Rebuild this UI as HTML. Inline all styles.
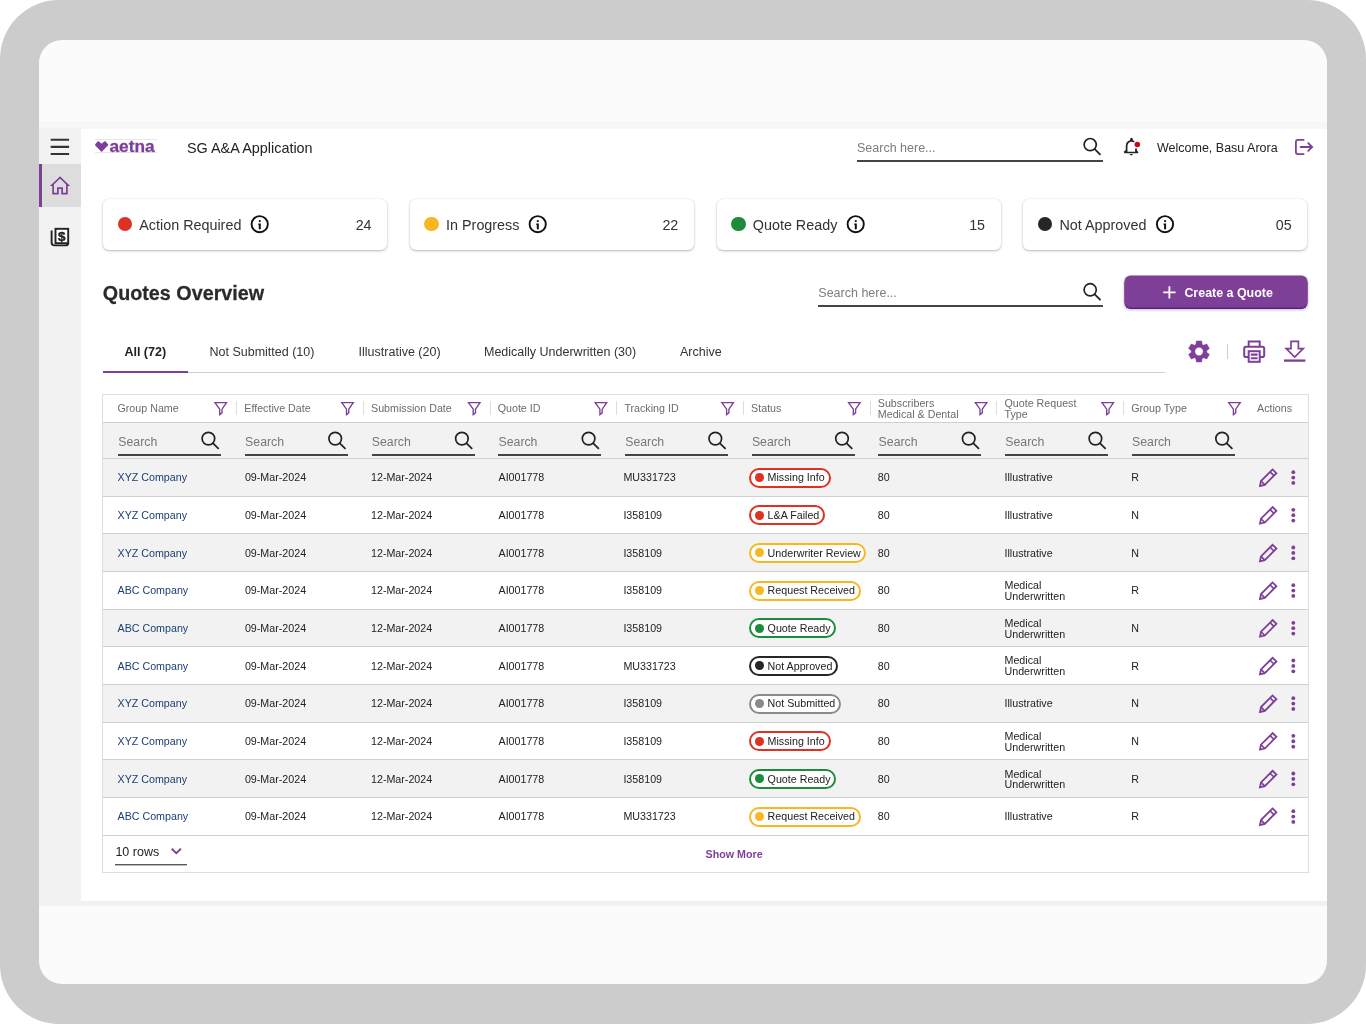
<!DOCTYPE html>
<html lang="en">
<head>
<meta charset="utf-8">
<title>SG A&amp;A Application - Quotes Overview</title>
<style>
*{box-sizing:border-box;margin:0;padding:0}
html,body{width:1366px;height:1024px;overflow:hidden;background:#fff}
body{font-family:"Liberation Sans",Arial,Helvetica,sans-serif;color:#222;position:relative}
.frame{position:absolute;left:0;top:0;width:1366px;height:1024px;background:#cccccc;border-radius:59px}
.screen{position:absolute;left:39px;top:40px;width:1288px;height:944px;background:#fbfbfb;border-radius:23px;overflow:hidden}
.page{position:absolute;left:-39px;top:-40px;width:1366px;height:1024px;transform:translateZ(0);will-change:transform}
.band{position:absolute;left:39px;top:121px;width:1288px;height:8px;background:#f8f7f6}
.main{position:absolute;left:80px;top:129px;width:1247px;height:772px;background:#fff}
.foot{position:absolute;left:39px;top:901px;width:1288px;height:5px;background:#f1f1f1}
.side{position:absolute;left:39px;top:128px;width:42px;height:778px;background:#f2f2f2}
.side .active{position:absolute;left:0;top:36px;width:42px;height:43px;background:#dddddd;border-left:3px solid #7d3f98}
svg{display:block;overflow:visible;position:absolute}
.t{position:absolute;white-space:nowrap;line-height:1}
.ul{position:absolute;height:2px;background:#444}
.card{position:absolute;top:199px;width:284px;height:51px;background:#fff;border-radius:6px;box-shadow:0 1px 2.5px rgba(0,0,0,.28),0 0 1px rgba(0,0,0,.12)}
.card .dot{position:absolute;left:14.6px;top:17.8px;width:14.6px;height:14.6px;border-radius:50%}
.card .lbl{position:absolute;left:36.3px;top:18.7px;font-size:14.35px;line-height:1;color:#333;white-space:nowrap}
.card .num{position:absolute;right:15.5px;top:18.7px;font-size:14.25px;line-height:1;color:#333}
.btn{position:absolute;left:1124px;top:275px;transform:translate(.5px,.5px);width:182.8px;height:32px;background:#7d3f98;border-radius:6px;box-shadow:0 1.5px 0 #5c1f82,0 2px 3px rgba(0,0,0,.25)}
.btn .t{color:#fff;font-weight:bold;font-size:12.45px;left:59.9px;top:10.9px}
.tab{position:absolute;top:346.3px;font-size:12.5px;line-height:1;color:#333;white-space:nowrap}
.tbl{position:absolute;left:102px;top:394px;width:1207px;height:479px;border:1px solid #dedede;background:#fff}
.row{position:absolute;left:103px;width:1204.5px;border-bottom:1px solid #cfcfcf}
.row.g{background:#f2f2f2}
.th{position:absolute;font-size:10.7px;line-height:10.7px;color:#6b6b6b;white-space:nowrap}
.sep{position:absolute;width:1px;height:14px;top:401px;background:#dcdcdc}
.td{position:absolute;font-size:10.7px;line-height:10.7px;color:#222;white-space:nowrap}
.lnk{color:#1c3f73}
.srch{position:absolute;font-size:12.3px;line-height:1;color:#777;top:436.3px}
.badge{position:absolute;height:20px;border-radius:10px;background:#fff;font-size:10.7px;line-height:10.7px;color:#222;white-space:nowrap;padding:4.7px 0 0 18.6px}
.badge i{position:absolute;left:5.8px;top:5.5px;width:8.8px;height:8.8px;border-radius:50%}
</style>
</head>
<body>
<div class="frame"></div>
<div class="screen"><div class="page">
<div class="band"></div>
<div class="main"></div>
<div class="foot"></div>
<div class="side"><div class="active"></div></div>
<svg style="left:50px;top:138px" width="18.4" height="16.5" viewBox="0 0 18.4 16.5"><g transform="translate(0.7 0.7)"><path d="M0 1.1H18.4M0 8.2H18.4M0 15.3H18.4" stroke="#333" stroke-width="2.1" fill="none"/></g></svg>
<svg style="left:50px;top:175px" width="20" height="19.5" viewBox="0 0 20 19.5"><g transform="translate(0.0 0.8)"><path d="M10 1.7 L2 9.3 H3.1 V17.9 H7.9 V12.3 H12.1 V17.9 H16.9 V9.3 H18 Z" fill="none" stroke="#7d3f98" stroke-width="1.7" stroke-linejoin="miter"/></g></svg>
<svg style="left:50px;top:227px" width="20" height="20" viewBox="0 0 20 20"><path d="M1.6 3.6 V15.6 Q1.6 18.4 4.4 18.4 H15.6 Q18.2 18.4 18.2 16" fill="none" stroke="#222" stroke-width="1.9"/><rect x="5.5" y="1.8" width="12.7" height="14.4" fill="#fff" stroke="#222" stroke-width="1.9"/></svg>
<div class="t" style="left:58px;top:230.2px;width:7.4px;text-align:center;font-size:13.4px;font-weight:bold;color:#222;-webkit-text-stroke:0.45px #222">$</div>
<div style="position:absolute;left:95px;top:139.2px;width:62px;height:13.6px;border-top:1px solid #e6e6e6;border-bottom:1px solid #e6e6e6"></div>
<svg style="left:95px;top:140px" width="13.2" height="11.4" viewBox="0 0 13.2 11"><g transform="translate(0.0 0.9)"><path d="M6.6 11 L0.3 4.4 Q-0.3 3.6 0.4 2.9 L2.6 0.5 Q3.3 -0.1 4 0.5 L6.6 2.7 L9.2 0.5 Q9.9 -0.1 10.6 0.5 L12.8 2.9 Q13.5 3.6 12.9 4.4 Z" fill="#7d3f98"/></g></svg>
<div class="t" style="left:109.4px;top:138.4px;font-size:17.3px;font-weight:bold;color:#7d3f98;letter-spacing:0.02px;-webkit-text-stroke:0.3px #7d3f98">aetna</div>
<div class="t" style="left:187px;top:140.7px;font-size:14.4px;color:#222">SG A&amp;A Application</div>
<div class="t" style="left:857px;top:142px;font-size:12.5px;color:#7d7d7d">Search here...</div>
<div class="ul" style="left:857px;top:160px;width:246px"></div>
<svg style="left:0;top:0" width="1" height="1"><circle cx="1090.2" cy="144.6" r="6.1" fill="none" stroke="#222" stroke-width="1.7"/><path d="M1094.51 148.91L1100.50 154.90" stroke="#222" stroke-width="1.7" fill="none"/></svg>
<svg style="left:1123px;top:137px" width="17" height="20" viewBox="0 0 17 20"><path d="M3.6 15 V9.4 Q3.6 4.6 8 3.9 V2.4 Q8 1.5 8.4 1.5 Q8.9 1.5 9 2.4 V3.9 Q10.3 4.1 11.2 4.9" fill="none" stroke="#222" stroke-width="1.7"/><path d="M13 11.4 V15" fill="none" stroke="#222" stroke-width="1.7"/><path d="M1.2 15.4 H14.6 L13 13.4 M1.2 15.4 L3.6 13.4" fill="none" stroke="#222" stroke-width="1.5" stroke-linejoin="round"/><path d="M6.5 17 H10.1 Q8.3 19.8 6.5 17 Z" fill="#222"/><circle cx="14.3" cy="7.4" r="2.75" fill="#d0021b"/></svg>
<div class="t" style="left:1157px;top:141.6px;font-size:12.5px;color:#222">Welcome, Basu Arora</div>
<svg style="left:1294px;top:138px" width="20" height="18" viewBox="0 0 20 18"><path d="M9.6 1.9 H4 Q1.9 1.9 1.9 4 V14 Q1.9 16.1 4 16.1 H9.6" fill="none" stroke="#7d3f98" stroke-width="1.8" stroke-linecap="round"/><path d="M6.6 9 H18 M14.2 5.2 L18.2 9 L14.2 12.8" fill="none" stroke="#7d3f98" stroke-width="1.8" stroke-linecap="round" stroke-linejoin="miter"/></svg>
<div class="card" style="left:103px"><span class="dot" style="background:#de3121"></span><span class="lbl">Action Required</span><span class="num">24</span></div>
<div class="card" style="left:409.8px"><span class="dot" style="background:#f6b721"></span><span class="lbl">In Progress</span><span class="num">22</span></div>
<div class="card" style="left:716.5px"><span class="dot" style="background:#1c8c3c"></span><span class="lbl">Quote Ready</span><span class="num">15</span></div>
<div class="card" style="left:1023.2px"><span class="dot" style="background:#262626"></span><span class="lbl">Not Approved</span><span class="num">05</span></div>
<div class="t" style="left:102.8px;top:283.8px;font-size:19.75px;font-weight:bold;color:#2a2a2a;-webkit-text-stroke:0.25px #2a2a2a;transform:scaleY(1.05);transform-origin:0 84.6%">Quotes Overview</div>
<div class="t" style="left:818.3px;top:287.2px;font-size:12.5px;color:#7d7d7d">Search here...</div>
<div class="ul" style="left:818px;top:305px;width:285px"></div>
<svg style="left:0;top:0" width="1" height="1"><circle cx="1090.2" cy="289.8" r="6.1" fill="none" stroke="#222" stroke-width="1.7"/><path d="M1094.51 294.11L1100.50 300.10" stroke="#222" stroke-width="1.7" fill="none"/></svg>
<div class="btn"><svg style="left:38px;top:10px" width="12.4" height="12.4" viewBox="0 0 12.4 12.4"><g transform="translate(0.7 0.7)"><path d="M6.2 0V12.4M0 6.2H12.4" stroke="#fff" stroke-width="1.8" fill="none"/></g></svg><span class="t">Create a Quote</span></div>
<div style="position:absolute;left:103px;top:371.8px;width:1062px;height:1.2px;background:#cfcfcf"></div>
<div style="position:absolute;left:103px;top:370.6px;width:85px;height:2.4px;background:#7d3f98"></div>
<div class="tab" style="left:124.4px;font-weight:bold;color:#222">All (72)</div>
<div class="tab" style="left:209.5px;">Not Submitted (10)</div>
<div class="tab" style="left:358.6px;">Illustrative (20)</div>
<div class="tab" style="left:484px;">Medically Underwritten (30)</div>
<div class="tab" style="left:680px;">Archive</div>
<svg style="left:0;top:0" width="1" height="1"><path d="M1195.79 344.50L1196.38 341.02L1201.62 341.02L1202.21 344.50A7.7 7.7 0 0 1 1203.46 345.22L1206.76 343.99L1209.38 348.53L1206.67 350.78A7.7 7.7 0 0 1 1206.67 352.22L1209.38 354.47L1206.76 359.01L1203.46 357.78A7.7 7.7 0 0 1 1202.21 358.50L1201.62 361.98L1196.38 361.98L1195.79 358.50A7.7 7.7 0 0 1 1194.54 357.78L1191.24 359.01L1188.62 354.47L1191.33 352.22A7.7 7.7 0 0 1 1191.33 350.78L1188.62 348.53L1191.24 343.99L1194.54 345.22A7.7 7.7 0 0 1 1195.79 344.50Z M1203.2 351.5 A4.2 4.2 0 1 0 1194.8 351.5 A4.2 4.2 0 1 0 1203.2 351.5Z" fill="#7d3f98" fill-rule="evenodd" stroke="#7d3f98" stroke-width="0.5" stroke-linejoin="round"/></svg>
<div style="position:absolute;left:1227px;top:344.3px;width:1px;height:14.5px;background:#cfcfcf"></div>
<svg style="left:1243px;top:340px" width="22.4" height="23" viewBox="0 0 22.4 23"><path d="M5.7 6.6 V1.5 H16.7 V6.6" fill="none" stroke="#7d3f98" stroke-width="2"/><path d="M5.4 17 H3 Q1.2 17 1.2 15.2 V8.6 Q1.2 6.8 3 6.8 H19.4 Q21.2 6.8 21.2 8.6 V15.2 Q21.2 17 19.4 17 H17" fill="none" stroke="#7d3f98" stroke-width="2"/><rect x="5.7" y="11.2" width="11" height="10.6" fill="none" stroke="#7d3f98" stroke-width="2"/><path d="M7.8 14.6 H14.6 M7.8 18.3 H14.6" stroke="#7d3f98" stroke-width="2.1" fill="none"/></svg>
<svg style="left:1283px;top:340px" width="23.4" height="23" viewBox="0 0 23.4 23"><path d="M8 1.4 H15.4 V8.6 H20.2 L11.7 17 L3.2 8.6 H8 Z" fill="none" stroke="#7d3f98" stroke-width="1.7" stroke-linejoin="miter"/><path d="M1 20.6 H22.4" stroke="#7d3f98" stroke-width="2.3" fill="none"/></svg>
<div class="tbl"></div>
<div class="row" style="top:395px;height:28px;border-bottom-color:#cfcfcf"></div>
<div class="row g" style="top:423px;height:36px"></div>
<div class="th" style="left:117.5px;top:402.9px">Group Name</div>
<svg style="left:214px;top:401px" width="14" height="14" viewBox="0 0 14 14"><g transform="translate(0.1 0.6)"><path d="M0.9 1 H12.4 L7.9 7.5 V11.2 L5.6 13 V7.5 Z" fill="none" stroke="#7d3f98" stroke-width="1.35" stroke-linejoin="miter"/></g></svg>
<div class="sep" style="left:236.0px"></div>
<div class="srch" style="left:118.3px">Search</div>
<div class="ul" style="left:118.0px;top:454px;width:103px"></div>
<svg style="left:0;top:0" width="1" height="1"><circle cx="208.4" cy="438.6" r="6.3" fill="none" stroke="#222" stroke-width="1.7"/><path d="M212.85 443.05L218.70 448.90" stroke="#222" stroke-width="1.7" fill="none"/></svg>
<div class="th" style="left:244.3px;top:402.9px">Effective Date</div>
<svg style="left:340px;top:401px" width="14" height="14" viewBox="0 0 14 14"><g transform="translate(0.9 0.6)"><path d="M0.9 1 H12.4 L7.9 7.5 V11.2 L5.6 13 V7.5 Z" fill="none" stroke="#7d3f98" stroke-width="1.35" stroke-linejoin="miter"/></g></svg>
<div class="sep" style="left:362.8px"></div>
<div class="srch" style="left:245.1px">Search</div>
<div class="ul" style="left:244.8px;top:454px;width:103px"></div>
<svg style="left:0;top:0" width="1" height="1"><circle cx="335.20000000000005" cy="438.6" r="6.3" fill="none" stroke="#222" stroke-width="1.7"/><path d="M339.65 443.05L345.50 448.90" stroke="#222" stroke-width="1.7" fill="none"/></svg>
<div class="th" style="left:371px;top:402.9px">Submission Date</div>
<svg style="left:467px;top:401px" width="14" height="14" viewBox="0 0 14 14"><g transform="translate(0.6 0.6)"><path d="M0.9 1 H12.4 L7.9 7.5 V11.2 L5.6 13 V7.5 Z" fill="none" stroke="#7d3f98" stroke-width="1.35" stroke-linejoin="miter"/></g></svg>
<div class="sep" style="left:489.5px"></div>
<div class="srch" style="left:371.8px">Search</div>
<div class="ul" style="left:371.5px;top:454px;width:103px"></div>
<svg style="left:0;top:0" width="1" height="1"><circle cx="461.9" cy="438.6" r="6.3" fill="none" stroke="#222" stroke-width="1.7"/><path d="M466.35 443.05L472.20 448.90" stroke="#222" stroke-width="1.7" fill="none"/></svg>
<div class="th" style="left:497.7px;top:402.9px">Quote ID</div>
<svg style="left:594px;top:401px" width="14" height="14" viewBox="0 0 14 14"><g transform="translate(0.3 0.6)"><path d="M0.9 1 H12.4 L7.9 7.5 V11.2 L5.6 13 V7.5 Z" fill="none" stroke="#7d3f98" stroke-width="1.35" stroke-linejoin="miter"/></g></svg>
<div class="sep" style="left:616.2px"></div>
<div class="srch" style="left:498.5px">Search</div>
<div class="ul" style="left:498.2px;top:454px;width:103px"></div>
<svg style="left:0;top:0" width="1" height="1"><circle cx="588.6" cy="438.6" r="6.3" fill="none" stroke="#222" stroke-width="1.7"/><path d="M593.05 443.05L598.90 448.90" stroke="#222" stroke-width="1.7" fill="none"/></svg>
<div class="th" style="left:624.4px;top:402.9px">Tracking ID</div>
<svg style="left:721px;top:401px" width="14" height="14" viewBox="0 0 14 14"><g transform="translate(0.0 0.6)"><path d="M0.9 1 H12.4 L7.9 7.5 V11.2 L5.6 13 V7.5 Z" fill="none" stroke="#7d3f98" stroke-width="1.35" stroke-linejoin="miter"/></g></svg>
<div class="sep" style="left:742.9px"></div>
<div class="srch" style="left:625.2px">Search</div>
<div class="ul" style="left:624.9px;top:454px;width:103px"></div>
<svg style="left:0;top:0" width="1" height="1"><circle cx="715.3" cy="438.6" r="6.3" fill="none" stroke="#222" stroke-width="1.7"/><path d="M719.75 443.05L725.60 448.90" stroke="#222" stroke-width="1.7" fill="none"/></svg>
<div class="th" style="left:751.1px;top:402.9px">Status</div>
<svg style="left:847px;top:401px" width="14" height="14" viewBox="0 0 14 14"><g transform="translate(0.7 0.6)"><path d="M0.9 1 H12.4 L7.9 7.5 V11.2 L5.6 13 V7.5 Z" fill="none" stroke="#7d3f98" stroke-width="1.35" stroke-linejoin="miter"/></g></svg>
<div class="sep" style="left:869.6px"></div>
<div class="srch" style="left:751.9px">Search</div>
<div class="ul" style="left:751.6px;top:454px;width:103px"></div>
<svg style="left:0;top:0" width="1" height="1"><circle cx="842.0" cy="438.6" r="6.3" fill="none" stroke="#222" stroke-width="1.7"/><path d="M846.45 443.05L852.30 448.90" stroke="#222" stroke-width="1.7" fill="none"/></svg>
<div class="th" style="left:877.8px;top:398px">Subscribers<br>Medical &amp; Dental</div>
<svg style="left:974px;top:401px" width="14" height="14" viewBox="0 0 14 14"><g transform="translate(0.4 0.6)"><path d="M0.9 1 H12.4 L7.9 7.5 V11.2 L5.6 13 V7.5 Z" fill="none" stroke="#7d3f98" stroke-width="1.35" stroke-linejoin="miter"/></g></svg>
<div class="sep" style="left:996.3px"></div>
<div class="srch" style="left:878.6px">Search</div>
<div class="ul" style="left:878.3px;top:454px;width:103px"></div>
<svg style="left:0;top:0" width="1" height="1"><circle cx="968.6999999999999" cy="438.6" r="6.3" fill="none" stroke="#222" stroke-width="1.7"/><path d="M973.15 443.05L979.00 448.90" stroke="#222" stroke-width="1.7" fill="none"/></svg>
<div class="th" style="left:1004.5px;top:398px">Quote Request<br>Type</div>
<svg style="left:1101px;top:401px" width="14" height="14" viewBox="0 0 14 14"><g transform="translate(0.1 0.6)"><path d="M0.9 1 H12.4 L7.9 7.5 V11.2 L5.6 13 V7.5 Z" fill="none" stroke="#7d3f98" stroke-width="1.35" stroke-linejoin="miter"/></g></svg>
<div class="sep" style="left:1123.0px"></div>
<div class="srch" style="left:1005.3px">Search</div>
<div class="ul" style="left:1005.0px;top:454px;width:103px"></div>
<svg style="left:0;top:0" width="1" height="1"><circle cx="1095.4" cy="438.6" r="6.3" fill="none" stroke="#222" stroke-width="1.7"/><path d="M1099.85 443.05L1105.70 448.90" stroke="#222" stroke-width="1.7" fill="none"/></svg>
<div class="th" style="left:1131.2px;top:402.9px">Group Type</div>
<svg style="left:1227px;top:401px" width="14" height="14" viewBox="0 0 14 14"><g transform="translate(0.8 0.6)"><path d="M0.9 1 H12.4 L7.9 7.5 V11.2 L5.6 13 V7.5 Z" fill="none" stroke="#7d3f98" stroke-width="1.35" stroke-linejoin="miter"/></g></svg>
<div class="srch" style="left:1132.0px">Search</div>
<div class="ul" style="left:1131.7px;top:454px;width:103px"></div>
<svg style="left:0;top:0" width="1" height="1"><circle cx="1222.1000000000001" cy="438.6" r="6.3" fill="none" stroke="#222" stroke-width="1.7"/><path d="M1226.55 443.05L1232.40 448.90" stroke="#222" stroke-width="1.7" fill="none"/></svg>
<div class="th" style="left:1257px;top:402.9px">Actions</div>
<div class="row g" style="top:459.00px;height:37.67px"></div>
<div class="td lnk" style="left:117.5px;top:472.24px">XYZ Company</div>
<div class="td" style="left:244.9px;top:472.24px">09-Mar-2024</div>
<div class="td" style="left:371px;top:472.24px">12-Mar-2024</div>
<div class="td" style="left:498.5px;top:472.24px">AI001778</div>
<div class="td" style="left:623.4px;top:472.24px">MU331723</div>
<div class="badge" style="left:749px;top:467.54px;width:82.0px;box-shadow:inset 0 0 0 2px #de3121"><i style="background:#de3121"></i>Missing Info</div>
<div class="td" style="left:877.8px;top:472.24px">80</div>
<div class="td" style="left:1004.5px;top:472.24px">Illustrative</div>
<div class="td" style="left:1131.2px;top:472.24px">R</div>
<svg style="left:1258px;top:468px" width="19" height="19" viewBox="0 0 19 19"><g transform="translate(0.8 0.04)"><path d="M1.2 17.9 L2.2 13 L13.8 1.4 L17.6 5.1 L6 16.8 Z" fill="none" stroke="#7d3f98" stroke-width="1.8" stroke-linejoin="miter"/><path d="M11.3 3.9 L15.1 7.6 M2.2 13 L6 16.8" fill="none" stroke="#7d3f98" stroke-width="1.6"/></g></svg>
<svg style="left:1291px;top:469px" width="5" height="16" viewBox="0 0 5 16"><g transform="translate(0.0 0.54)"><circle cx="2.3" cy="2.6" r="1.9" fill="#7d3f98"/><circle cx="2.3" cy="8" r="1.9" fill="#7d3f98"/><circle cx="2.3" cy="13.4" r="1.9" fill="#7d3f98"/></g></svg>
<div class="row" style="top:496.67px;height:37.67px"></div>
<div class="td lnk" style="left:117.5px;top:509.91px">XYZ Company</div>
<div class="td" style="left:244.9px;top:509.91px">09-Mar-2024</div>
<div class="td" style="left:371px;top:509.91px">12-Mar-2024</div>
<div class="td" style="left:498.5px;top:509.91px">AI001778</div>
<div class="td" style="left:623.4px;top:509.91px">I358109</div>
<div class="badge" style="left:749px;top:505.21px;width:76.0px;box-shadow:inset 0 0 0 2px #de3121"><i style="background:#de3121"></i>L&amp;A Failed</div>
<div class="td" style="left:877.8px;top:509.91px">80</div>
<div class="td" style="left:1004.5px;top:509.91px">Illustrative</div>
<div class="td" style="left:1131.2px;top:509.91px">N</div>
<svg style="left:1258px;top:505px" width="19" height="19" viewBox="0 0 19 19"><g transform="translate(0.8 0.71)"><path d="M1.2 17.9 L2.2 13 L13.8 1.4 L17.6 5.1 L6 16.8 Z" fill="none" stroke="#7d3f98" stroke-width="1.8" stroke-linejoin="miter"/><path d="M11.3 3.9 L15.1 7.6 M2.2 13 L6 16.8" fill="none" stroke="#7d3f98" stroke-width="1.6"/></g></svg>
<svg style="left:1291px;top:507px" width="5" height="16" viewBox="0 0 5 16"><g transform="translate(0.0 0.21)"><circle cx="2.3" cy="2.6" r="1.9" fill="#7d3f98"/><circle cx="2.3" cy="8" r="1.9" fill="#7d3f98"/><circle cx="2.3" cy="13.4" r="1.9" fill="#7d3f98"/></g></svg>
<div class="row g" style="top:534.34px;height:37.67px"></div>
<div class="td lnk" style="left:117.5px;top:547.58px">XYZ Company</div>
<div class="td" style="left:244.9px;top:547.58px">09-Mar-2024</div>
<div class="td" style="left:371px;top:547.58px">12-Mar-2024</div>
<div class="td" style="left:498.5px;top:547.58px">AI001778</div>
<div class="td" style="left:623.4px;top:547.58px">I358109</div>
<div class="badge" style="left:749px;top:542.88px;width:117.0px;box-shadow:inset 0 0 0 2px #f6b721"><i style="background:#f6b721"></i>Underwriter Review</div>
<div class="td" style="left:877.8px;top:547.58px">80</div>
<div class="td" style="left:1004.5px;top:547.58px">Illustrative</div>
<div class="td" style="left:1131.2px;top:547.58px">N</div>
<svg style="left:1258px;top:543px" width="19" height="19" viewBox="0 0 19 19"><g transform="translate(0.8 0.38)"><path d="M1.2 17.9 L2.2 13 L13.8 1.4 L17.6 5.1 L6 16.8 Z" fill="none" stroke="#7d3f98" stroke-width="1.8" stroke-linejoin="miter"/><path d="M11.3 3.9 L15.1 7.6 M2.2 13 L6 16.8" fill="none" stroke="#7d3f98" stroke-width="1.6"/></g></svg>
<svg style="left:1291px;top:544px" width="5" height="16" viewBox="0 0 5 16"><g transform="translate(0.0 0.88)"><circle cx="2.3" cy="2.6" r="1.9" fill="#7d3f98"/><circle cx="2.3" cy="8" r="1.9" fill="#7d3f98"/><circle cx="2.3" cy="13.4" r="1.9" fill="#7d3f98"/></g></svg>
<div class="row" style="top:572.01px;height:37.67px"></div>
<div class="td lnk" style="left:117.5px;top:585.25px">ABC Company</div>
<div class="td" style="left:244.9px;top:585.25px">09-Mar-2024</div>
<div class="td" style="left:371px;top:585.25px">12-Mar-2024</div>
<div class="td" style="left:498.5px;top:585.25px">AI001778</div>
<div class="td" style="left:623.4px;top:585.25px">I358109</div>
<div class="badge" style="left:749px;top:580.55px;width:112.0px;box-shadow:inset 0 0 0 2px #f6b721"><i style="background:#f6b721"></i>Request Received</div>
<div class="td" style="left:877.8px;top:585.25px">80</div>
<div class="td" style="left:1004.5px;top:580.15px">Medical<br>Underwritten</div>
<div class="td" style="left:1131.2px;top:585.25px">R</div>
<svg style="left:1258px;top:581px" width="19" height="19" viewBox="0 0 19 19"><g transform="translate(0.8 0.05)"><path d="M1.2 17.9 L2.2 13 L13.8 1.4 L17.6 5.1 L6 16.8 Z" fill="none" stroke="#7d3f98" stroke-width="1.8" stroke-linejoin="miter"/><path d="M11.3 3.9 L15.1 7.6 M2.2 13 L6 16.8" fill="none" stroke="#7d3f98" stroke-width="1.6"/></g></svg>
<svg style="left:1291px;top:582px" width="5" height="16" viewBox="0 0 5 16"><g transform="translate(0.0 0.55)"><circle cx="2.3" cy="2.6" r="1.9" fill="#7d3f98"/><circle cx="2.3" cy="8" r="1.9" fill="#7d3f98"/><circle cx="2.3" cy="13.4" r="1.9" fill="#7d3f98"/></g></svg>
<div class="row g" style="top:609.68px;height:37.67px"></div>
<div class="td lnk" style="left:117.5px;top:622.92px">ABC Company</div>
<div class="td" style="left:244.9px;top:622.92px">09-Mar-2024</div>
<div class="td" style="left:371px;top:622.92px">12-Mar-2024</div>
<div class="td" style="left:498.5px;top:622.92px">AI001778</div>
<div class="td" style="left:623.4px;top:622.92px">I358109</div>
<div class="badge" style="left:749px;top:618.22px;width:87.0px;box-shadow:inset 0 0 0 2px #1c8c3c"><i style="background:#1c8c3c"></i>Quote Ready</div>
<div class="td" style="left:877.8px;top:622.92px">80</div>
<div class="td" style="left:1004.5px;top:617.82px">Medical<br>Underwritten</div>
<div class="td" style="left:1131.2px;top:622.92px">N</div>
<svg style="left:1258px;top:618px" width="19" height="19" viewBox="0 0 19 19"><g transform="translate(0.8 0.72)"><path d="M1.2 17.9 L2.2 13 L13.8 1.4 L17.6 5.1 L6 16.8 Z" fill="none" stroke="#7d3f98" stroke-width="1.8" stroke-linejoin="miter"/><path d="M11.3 3.9 L15.1 7.6 M2.2 13 L6 16.8" fill="none" stroke="#7d3f98" stroke-width="1.6"/></g></svg>
<svg style="left:1291px;top:620px" width="5" height="16" viewBox="0 0 5 16"><g transform="translate(0.0 0.22)"><circle cx="2.3" cy="2.6" r="1.9" fill="#7d3f98"/><circle cx="2.3" cy="8" r="1.9" fill="#7d3f98"/><circle cx="2.3" cy="13.4" r="1.9" fill="#7d3f98"/></g></svg>
<div class="row" style="top:647.35px;height:37.67px"></div>
<div class="td lnk" style="left:117.5px;top:660.59px">ABC Company</div>
<div class="td" style="left:244.9px;top:660.59px">09-Mar-2024</div>
<div class="td" style="left:371px;top:660.59px">12-Mar-2024</div>
<div class="td" style="left:498.5px;top:660.59px">AI001778</div>
<div class="td" style="left:623.4px;top:660.59px">MU331723</div>
<div class="badge" style="left:749px;top:655.88px;width:88.9px;box-shadow:inset 0 0 0 2px #262626"><i style="background:#262626"></i>Not Approved</div>
<div class="td" style="left:877.8px;top:660.59px">80</div>
<div class="td" style="left:1004.5px;top:655.49px">Medical<br>Underwritten</div>
<div class="td" style="left:1131.2px;top:660.59px">R</div>
<svg style="left:1258px;top:656px" width="19" height="19" viewBox="0 0 19 19"><g transform="translate(0.8 0.38)"><path d="M1.2 17.9 L2.2 13 L13.8 1.4 L17.6 5.1 L6 16.8 Z" fill="none" stroke="#7d3f98" stroke-width="1.8" stroke-linejoin="miter"/><path d="M11.3 3.9 L15.1 7.6 M2.2 13 L6 16.8" fill="none" stroke="#7d3f98" stroke-width="1.6"/></g></svg>
<svg style="left:1291px;top:657px" width="5" height="16" viewBox="0 0 5 16"><g transform="translate(0.0 0.88)"><circle cx="2.3" cy="2.6" r="1.9" fill="#7d3f98"/><circle cx="2.3" cy="8" r="1.9" fill="#7d3f98"/><circle cx="2.3" cy="13.4" r="1.9" fill="#7d3f98"/></g></svg>
<div class="row g" style="top:685.02px;height:37.67px"></div>
<div class="td lnk" style="left:117.5px;top:698.26px">XYZ Company</div>
<div class="td" style="left:244.9px;top:698.26px">09-Mar-2024</div>
<div class="td" style="left:371px;top:698.26px">12-Mar-2024</div>
<div class="td" style="left:498.5px;top:698.26px">AI001778</div>
<div class="td" style="left:623.4px;top:698.26px">I358109</div>
<div class="badge" style="left:749px;top:693.56px;width:92.4px;box-shadow:inset 0 0 0 2px #8a8a8a"><i style="background:#8a8a8a"></i>Not Submitted</div>
<div class="td" style="left:877.8px;top:698.26px">80</div>
<div class="td" style="left:1004.5px;top:698.26px">Illustrative</div>
<div class="td" style="left:1131.2px;top:698.26px">N</div>
<svg style="left:1258px;top:694px" width="19" height="19" viewBox="0 0 19 19"><g transform="translate(0.8 0.06)"><path d="M1.2 17.9 L2.2 13 L13.8 1.4 L17.6 5.1 L6 16.8 Z" fill="none" stroke="#7d3f98" stroke-width="1.8" stroke-linejoin="miter"/><path d="M11.3 3.9 L15.1 7.6 M2.2 13 L6 16.8" fill="none" stroke="#7d3f98" stroke-width="1.6"/></g></svg>
<svg style="left:1291px;top:695px" width="5" height="16" viewBox="0 0 5 16"><g transform="translate(0.0 0.56)"><circle cx="2.3" cy="2.6" r="1.9" fill="#7d3f98"/><circle cx="2.3" cy="8" r="1.9" fill="#7d3f98"/><circle cx="2.3" cy="13.4" r="1.9" fill="#7d3f98"/></g></svg>
<div class="row" style="top:722.69px;height:37.67px"></div>
<div class="td lnk" style="left:117.5px;top:735.93px">XYZ Company</div>
<div class="td" style="left:244.9px;top:735.93px">09-Mar-2024</div>
<div class="td" style="left:371px;top:735.93px">12-Mar-2024</div>
<div class="td" style="left:498.5px;top:735.93px">AI001778</div>
<div class="td" style="left:623.4px;top:735.93px">I358109</div>
<div class="badge" style="left:749px;top:731.23px;width:82.0px;box-shadow:inset 0 0 0 2px #de3121"><i style="background:#de3121"></i>Missing Info</div>
<div class="td" style="left:877.8px;top:735.93px">80</div>
<div class="td" style="left:1004.5px;top:730.83px">Medical<br>Underwritten</div>
<div class="td" style="left:1131.2px;top:735.93px">N</div>
<svg style="left:1258px;top:731px" width="19" height="19" viewBox="0 0 19 19"><g transform="translate(0.8 0.73)"><path d="M1.2 17.9 L2.2 13 L13.8 1.4 L17.6 5.1 L6 16.8 Z" fill="none" stroke="#7d3f98" stroke-width="1.8" stroke-linejoin="miter"/><path d="M11.3 3.9 L15.1 7.6 M2.2 13 L6 16.8" fill="none" stroke="#7d3f98" stroke-width="1.6"/></g></svg>
<svg style="left:1291px;top:733px" width="5" height="16" viewBox="0 0 5 16"><g transform="translate(0.0 0.23)"><circle cx="2.3" cy="2.6" r="1.9" fill="#7d3f98"/><circle cx="2.3" cy="8" r="1.9" fill="#7d3f98"/><circle cx="2.3" cy="13.4" r="1.9" fill="#7d3f98"/></g></svg>
<div class="row g" style="top:760.36px;height:37.67px"></div>
<div class="td lnk" style="left:117.5px;top:773.60px">XYZ Company</div>
<div class="td" style="left:244.9px;top:773.60px">09-Mar-2024</div>
<div class="td" style="left:371px;top:773.60px">12-Mar-2024</div>
<div class="td" style="left:498.5px;top:773.60px">AI001778</div>
<div class="td" style="left:623.4px;top:773.60px">I358109</div>
<div class="badge" style="left:749px;top:768.89px;width:87.0px;box-shadow:inset 0 0 0 2px #1c8c3c"><i style="background:#1c8c3c"></i>Quote Ready</div>
<div class="td" style="left:877.8px;top:773.60px">80</div>
<div class="td" style="left:1004.5px;top:768.50px">Medical<br>Underwritten</div>
<div class="td" style="left:1131.2px;top:773.60px">R</div>
<svg style="left:1258px;top:769px" width="19" height="19" viewBox="0 0 19 19"><g transform="translate(0.8 0.39)"><path d="M1.2 17.9 L2.2 13 L13.8 1.4 L17.6 5.1 L6 16.8 Z" fill="none" stroke="#7d3f98" stroke-width="1.8" stroke-linejoin="miter"/><path d="M11.3 3.9 L15.1 7.6 M2.2 13 L6 16.8" fill="none" stroke="#7d3f98" stroke-width="1.6"/></g></svg>
<svg style="left:1291px;top:770px" width="5" height="16" viewBox="0 0 5 16"><g transform="translate(0.0 0.89)"><circle cx="2.3" cy="2.6" r="1.9" fill="#7d3f98"/><circle cx="2.3" cy="8" r="1.9" fill="#7d3f98"/><circle cx="2.3" cy="13.4" r="1.9" fill="#7d3f98"/></g></svg>
<div class="row" style="top:798.03px;height:37.67px"></div>
<div class="td lnk" style="left:117.5px;top:811.27px">ABC Company</div>
<div class="td" style="left:244.9px;top:811.27px">09-Mar-2024</div>
<div class="td" style="left:371px;top:811.27px">12-Mar-2024</div>
<div class="td" style="left:498.5px;top:811.27px">AI001778</div>
<div class="td" style="left:623.4px;top:811.27px">MU331723</div>
<div class="badge" style="left:749px;top:806.57px;width:112.0px;box-shadow:inset 0 0 0 2px #f6b721"><i style="background:#f6b721"></i>Request Received</div>
<div class="td" style="left:877.8px;top:811.27px">80</div>
<div class="td" style="left:1004.5px;top:811.27px">Illustrative</div>
<div class="td" style="left:1131.2px;top:811.27px">R</div>
<svg style="left:1258px;top:807px" width="19" height="19" viewBox="0 0 19 19"><g transform="translate(0.8 0.07)"><path d="M1.2 17.9 L2.2 13 L13.8 1.4 L17.6 5.1 L6 16.8 Z" fill="none" stroke="#7d3f98" stroke-width="1.8" stroke-linejoin="miter"/><path d="M11.3 3.9 L15.1 7.6 M2.2 13 L6 16.8" fill="none" stroke="#7d3f98" stroke-width="1.6"/></g></svg>
<svg style="left:1291px;top:808px" width="5" height="16" viewBox="0 0 5 16"><g transform="translate(0.0 0.57)"><circle cx="2.3" cy="2.6" r="1.9" fill="#7d3f98"/><circle cx="2.3" cy="8" r="1.9" fill="#7d3f98"/><circle cx="2.3" cy="13.4" r="1.9" fill="#7d3f98"/></g></svg>
<div class="t" style="left:115.4px;top:846.2px;font-size:12.5px;color:#222">10 rows</div>
<svg style="left:170px;top:847px" width="11" height="7" viewBox="0 0 11 7"><g transform="translate(0.9 0.8)"><path d="M0.8 0.9 L5.4 5.4 L10 0.9" fill="none" stroke="#7d3f98" stroke-width="1.9"/></g></svg>
<div class="ul" style="left:115px;top:864px;width:72px;height:1px;background:#5a5a5a;box-shadow:0 1px 0 rgba(60,60,60,.35)"></div>
<div class="t" style="left:705.6px;top:848.6px;font-size:10.7px;font-weight:bold;color:#7d3f98">Show More</div>
<svg style="left:250px;top:215px" width="18" height="18" viewBox="0 0 18 18"><g transform="translate(0.7 0.2)"><circle cx="9" cy="9" r="8.1" fill="none" stroke="#111" stroke-width="1.9"/><circle cx="9.1" cy="5.9" r="1.1" fill="#111"/><path d="M7.5 8.3 H10.1 V13.6 Q10.1 14.4 9.1 14.4 Q8.1 14.4 8.1 13.6 V9.9 L7.5 9.5 Z" fill="#111"/></g></svg>
<svg style="left:528px;top:215px" width="18" height="18" viewBox="0 0 18 18"><g transform="translate(0.7 0.2)"><circle cx="9" cy="9" r="8.1" fill="none" stroke="#111" stroke-width="1.9"/><circle cx="9.1" cy="5.9" r="1.1" fill="#111"/><path d="M7.5 8.3 H10.1 V13.6 Q10.1 14.4 9.1 14.4 Q8.1 14.4 8.1 13.6 V9.9 L7.5 9.5 Z" fill="#111"/></g></svg>
<svg style="left:846px;top:215px" width="18" height="18" viewBox="0 0 18 18"><g transform="translate(0.7 0.2)"><circle cx="9" cy="9" r="8.1" fill="none" stroke="#111" stroke-width="1.9"/><circle cx="9.1" cy="5.9" r="1.1" fill="#111"/><path d="M7.5 8.3 H10.1 V13.6 Q10.1 14.4 9.1 14.4 Q8.1 14.4 8.1 13.6 V9.9 L7.5 9.5 Z" fill="#111"/></g></svg>
<svg style="left:1156px;top:215px" width="18" height="18" viewBox="0 0 18 18"><g transform="translate(0.0 0.2)"><circle cx="9" cy="9" r="8.1" fill="none" stroke="#111" stroke-width="1.9"/><circle cx="9.1" cy="5.9" r="1.1" fill="#111"/><path d="M7.5 8.3 H10.1 V13.6 Q10.1 14.4 9.1 14.4 Q8.1 14.4 8.1 13.6 V9.9 L7.5 9.5 Z" fill="#111"/></g></svg>
</div></div>
</body>
</html>
